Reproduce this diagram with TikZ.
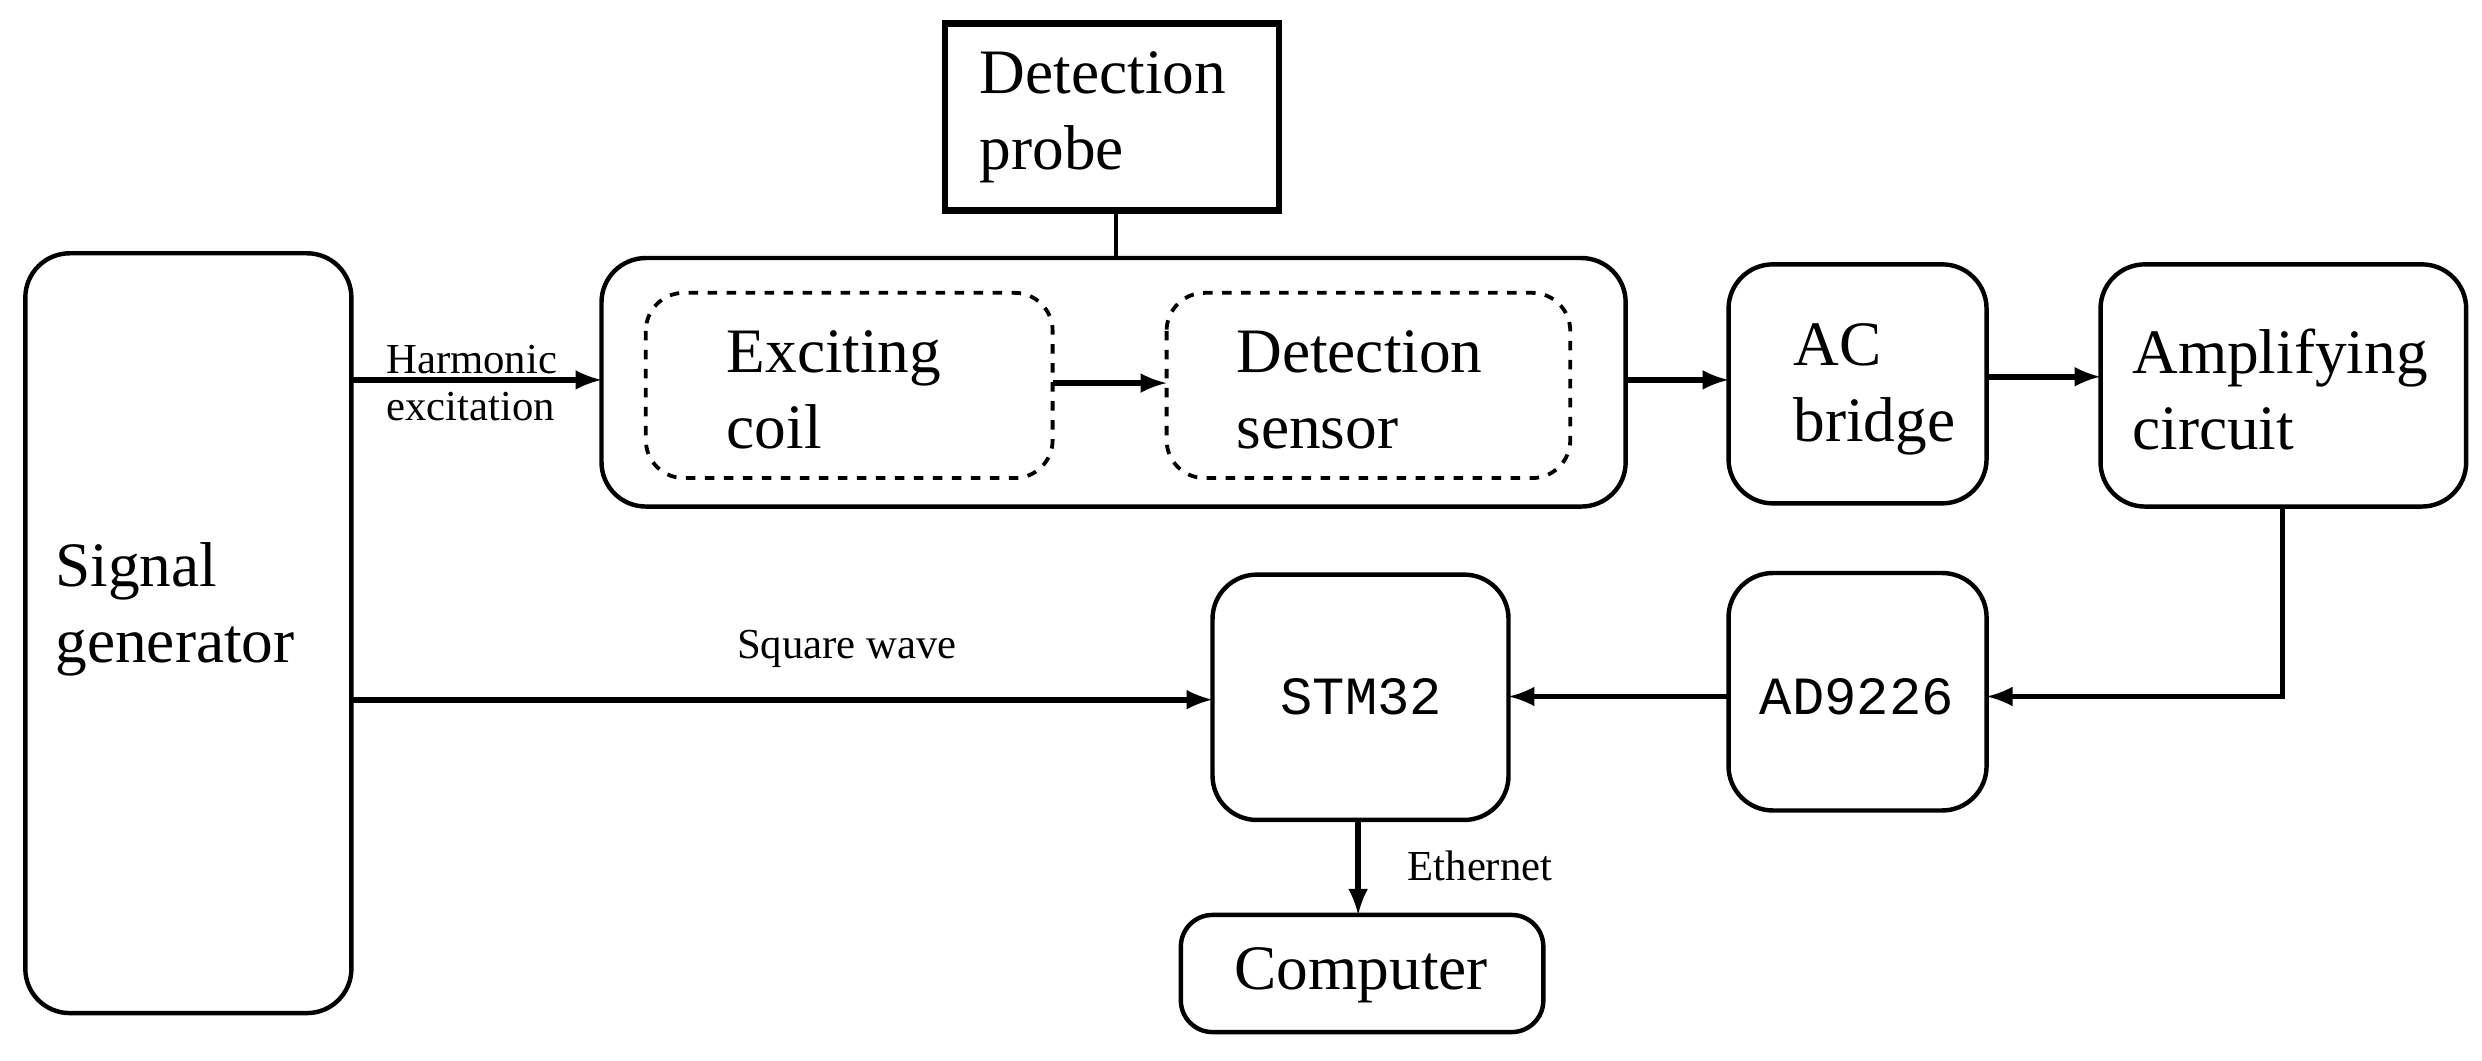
\documentclass[tikz,border=0pt]{standalone}
\usepackage{fontspec}
\setmainfont{Liberation Serif}
\newfontfamily\monof{Liberation Mono}
\begin{document}
\begin{tikzpicture}[x=0.5pt,y=-0.5pt,
  box/.style={draw,line width=1.4pt,rounded corners=14pt},
  dbox/.style={draw,line width=1.2pt,dashed,rounded corners=12pt},
  arr/.style={line width=1.8pt,-latex},
  big/.style={font=\fontsize{20}{24}\selectfont,align=left},
  small/.style={font=\fontsize{13.5}{15}\selectfont,align=left},
  mono/.style={font=\monof\fontsize{17}{20}\selectfont}]
\useasboundingbox (0,0) rectangle (1568,670);
\draw[box] (16,160) rectangle (222,640);
\node[big,anchor=west] (sg) at (28,385) {Signal\\generator};
\coordinate (sgr1) at (222,240);
\coordinate (sgr2) at (222,442);
\draw[line width=2.2pt] (597,15) rectangle (808,133);
\node[big,anchor=west] (dp) at (612,74) {Detection\\probe};
\coordinate (dpb) at (705,133);
\coordinate (bbt) at (705,163);
\draw[line width=1.2pt] (dpb) -- (bbt);
\draw[box] (380,163) rectangle (1027,320);
\coordinate (bbl) at (380,240);
\coordinate (bbr) at (1027,240);
\draw[dbox] (408,185) rectangle (665,302);
\node[big,anchor=west] (ec) at (452,246) {Exciting\\coil};
\draw[dbox] (737,185) rectangle (992,302);
\node[big,anchor=west] (ds) at (774,246) {Detection\\sensor};
\coordinate (ecr) at (665,242); \coordinate (dsl) at (737,242);
\draw[arr] (ecr) -- (dsl);
\draw[arr] (sgr1) -- (bbl);
\node[small] at (298,242) {Harmonic\\excitation};
\draw[box] (1092,167) rectangle (1255,318);
\node[big,anchor=west] (ac) at (1126,246) {AC\\bridge};
\coordinate (acl) at (1092,240); \coordinate (acr) at (1255,238);
\draw[arr] (bbr) -- (acl);
\draw[box] (1327,167) rectangle (1558,320);
\node[big,anchor=west] (am) at (1340,246) {Amplifying\\circuit};
\coordinate (aml) at (1327,238); \coordinate (amb) at (1442,320);
\draw[arr] (acr) -- (aml);
\draw[box] (1092,362) rectangle (1255,512);
\node[mono] (ad) at (1173,440) {AD9226};
\coordinate (adr) at (1255,440); \coordinate (adl) at (1092,440);
\draw[arr] (amb) -- (1442,440) -- (adr);
\draw[box] (766,363) rectangle (953,518);
\node[mono] (stm) at (860,440) {STM32};
\coordinate (stmr) at (953,440); \coordinate (stml) at (766,442);
\coordinate (stmb) at (858,518);
\draw[arr] (adl) -- (stmr);
\draw[arr] (sgr2) -- (stml);
\node[small] at (535,410) {Square wave};
\draw[box,rounded corners=10pt] (746,578) rectangle (975,652);
\node[big] (pc) at (860,616) {Computer};
\coordinate (pct) at (858,578);
\draw[arr] (stmb) -- (pct);
\node[small] at (935,547) {Ethernet};
\end{tikzpicture}
\end{document}
